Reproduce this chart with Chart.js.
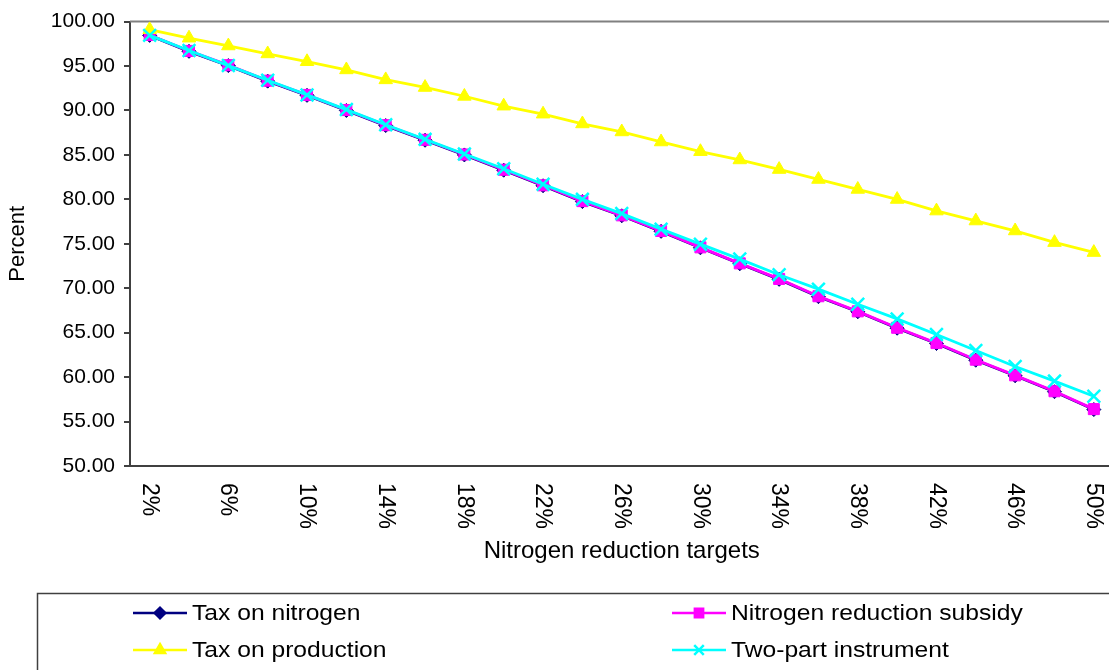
<!DOCTYPE html>
<html>
<head>
<meta charset="utf-8">
<script src="https://cdn.jsdelivr.net/npm/chart.js@4/dist/chart.umd.min.js"></script>
<style>
  html, body { margin: 0; padding: 0; overflow: hidden; background: #ffffff; }
  #c { display: block; }
</style>
</head>
<body>
<canvas id="c" width="1125" height="670"></canvas>
<script>
// Nitrogen reduction targets (category axis)
const targets = ['2%','4%','6%','8%','10%','12%','14%','16%','18%','20%','22%','24%','26%',
                 '28%','30%','32%','34%','36%','38%','40%','42%','44%','46%','48%','50%'];

// Percent values for each policy instrument
const taxOnNitrogen = [98.45, 96.65, 95.05, 93.30, 91.70, 90.00, 88.30, 86.65, 85.00, 83.28, 81.53, 79.75, 78.15,
                       76.40, 74.55, 72.75, 71.00, 69.05, 67.35, 65.50, 63.78, 61.90, 60.15, 58.36, 56.35];
const reductionSubsidy = [98.50, 96.70, 95.10, 93.35, 91.75, 90.05, 88.35, 86.70, 85.05, 83.33, 81.58, 79.80, 78.20,
                          76.45, 74.60, 72.80, 71.05, 69.10, 67.40, 65.55, 63.83, 61.96, 60.20, 58.41, 56.40];
const taxOnProduction = [99.10, 98.15, 97.27, 96.38, 95.50, 94.58, 93.46, 92.60, 91.60, 90.50, 89.60, 88.50, 87.60,
                         86.47, 85.38, 84.45, 83.37, 82.25, 81.13, 80.00, 78.70, 77.58, 76.46, 75.15, 74.03];
const twoPartInstrument = [98.45, 96.75, 95.05, 93.40, 91.75, 90.10, 88.40, 86.75, 85.10, 83.45, 81.70, 80.00, 78.40,
                           76.65, 74.96, 73.28, 71.52, 69.90, 68.20, 66.55, 64.80, 63.00, 61.20, 59.55, 57.85];

// Y axis range and step
const yMin = 50, yMax = 100, yStep = 5;
// Every second category gets a label on the x axis
const labelEvery = 2;

const FONT = '"Liberation Sans", Arial, sans-serif';

function series(label, data, color, style, radius, order, borderW) {
  return {
    label, data, order,
    borderColor: color,
    backgroundColor: color,
    borderWidth: 2.8,
    pointStyle: style,
    pointRadius: radius,
    pointHoverRadius: radius,
    pointBackgroundColor: color,
    pointBorderColor: color,
    pointBorderWidth: borderW,
    tension: 0,
    fill: false
  };
}

const datasets = [
  series('Tax on nitrogen', taxOnNitrogen, '#000080', 'rectRot', 7, 4, 1),
  series('Nitrogen reduction subsidy', reductionSubsidy, '#FF00FF', 'rect', 7.8, 3, 1),
  series('Tax on production', taxOnProduction, '#FFFF00', 'triangle', 7.8, 2, 1),
  series('Two-part instrument', twoPartInstrument, '#00FFFF', 'crossRot', 9, 1, 2.5)
];

// Grey frame line along the top of the plot area
const plotFrame = {
  id: 'plotFrame',
  beforeDatasetsDraw(chart) {
    const {ctx, chartArea: a} = chart;
    ctx.save();
    ctx.strokeStyle = '#808080';
    ctx.lineWidth = 2;
    ctx.beginPath();
    ctx.moveTo(a.left, a.top);
    ctx.lineTo(a.right + 20, a.top);
    ctx.stroke();
    ctx.restore();
  }
};

// Category labels, turned to read top-to-bottom
const xLabels = {
  id: 'xLabels',
  afterDraw(chart) {
    const {ctx} = chart;
    const xs = chart.scales.x;
    ctx.save();
    ctx.font = '23px ' + FONT;
    ctx.fillStyle = '#000000';
    ctx.textAlign = 'left';
    ctx.textBaseline = 'middle';
    targets.forEach((lab, i) => {
      if (i % labelEvery) return;
      const x = xs.getPixelForValue(i);
      ctx.save();
      ctx.translate(x, xs.top + 17);
      ctx.scale(1.08, 1);
      ctx.rotate(Math.PI / 2);
      ctx.fillText(lab, 0, 0);
      ctx.restore();
    });
    ctx.restore();
  }
};

// Boxed two-column legend below the axis title
const boxLegend = {
  id: 'boxLegend',
  afterDraw(chart) {
    const {ctx} = chart;
    ctx.save();
    ctx.strokeStyle = '#404040';
    ctx.lineWidth = 1.5;
    ctx.strokeRect(37.5, 593.5, 1200, 200);
    const cols = [133, 672];
    const rows = [613, 650];
    chart.data.datasets.forEach((ds, i) => {
      const x0 = cols[i % 2];
      const y = rows[Math.floor(i / 2)];
      ctx.strokeStyle = ds.borderColor;
      ctx.fillStyle = ds.borderColor;
      ctx.lineWidth = 2.5;
      ctx.beginPath();
      ctx.moveTo(x0, y);
      ctx.lineTo(x0 + 54, y);
      ctx.stroke();
      Chart.helpers.drawPoint(ctx, {
        pointStyle: ds.pointStyle,
        radius: ds.pointRadius * 0.75,
        rotation: 0,
        borderWidth: ds.pointBorderWidth
      }, x0 + 27, y);
      ctx.save();
      ctx.translate(x0 + 59, y + 1);
      ctx.scale(1.12, 1);
      ctx.fillStyle = '#000000';
      ctx.font = '22px ' + FONT;
      ctx.textAlign = 'left';
      ctx.textBaseline = 'middle';
      ctx.fillText(ds.label, 0, 0);
      ctx.restore();
    });
    ctx.restore();
  }
};

new Chart(document.getElementById('c'), {
  type: 'line',
  data: { labels: targets, datasets },
  plugins: [plotFrame, xLabels, boxLegend],
  options: {
    responsive: false,
    animation: false,
    events: [],
    layout: { padding: { left: 0, top: 20, right: 10, bottom: 104 } },
    plugins: { legend: { display: false }, tooltip: { enabled: false } },
    scales: {
      x: {
        type: 'category',
        offset: true,
        grid: { display: false, drawTicks: false },
        border: { display: true, color: '#404040', width: 2 },
        ticks: { display: false },
        title: {
          display: true,
          text: 'Nitrogen reduction targets',
          color: '#000000',
          font: { family: FONT, size: 24 },
          padding: { top: 0, bottom: 0 }
        },
        afterFit(scale) { scale.height = 100; }
      },
      y: {
        min: yMin,
        max: yMax,
        grid: { drawOnChartArea: false, drawTicks: true, tickLength: 6, color: '#404040', lineWidth: 2 },
        border: { display: true, color: '#404040', width: 2 },
        ticks: {
          stepSize: yStep,
          color: '#000000',
          padding: 9,
          font: { family: FONT, size: 21 },
          callback: v => v.toFixed(2)
        },
        title: {
          display: true,
          text: 'Percent',
          color: '#000000',
          font: { family: FONT, size: 22 },
          padding: { top: 5, bottom: 0 }
        },
        afterFit(scale) { scale.width = 130; }
      }
    }
  }
});
</script>
</body>
</html>
